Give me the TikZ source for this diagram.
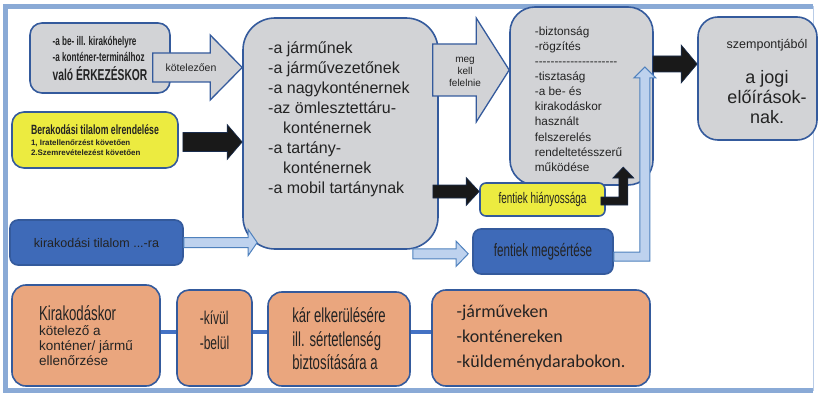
\documentclass[tikz,border=0pt]{standalone}
\usepackage{fontspec}
\setmainfont{Liberation Sans}
\newfontfamily\narrowfont[FakeStretch=0.65]{Liberation Sans}
\newfontfamily\calfont{Carlito}
\usetikzlibrary{calc}

\definecolor{boxblue}{RGB}{52,90,156}
\definecolor{boxgray}{RGB}{210,211,214}
\definecolor{boxyellow}{RGB}{236,235,64}
\definecolor{boxfill}{RGB}{62,106,184}
\definecolor{boxorange}{RGB}{234,166,126}
\definecolor{arrowlight}{RGB}{190,210,238}
\definecolor{arrowedge}{RGB}{79,129,189}
\definecolor{linkblue}{RGB}{68,114,196}
\definecolor{framecol}{RGB}{138,170,214}
\definecolor{textdark}{RGB}{35,35,35}

% horizontal block arrow: style, tail point, tip (x only), shaft half, head half, head length
\newcommand{\blockarrow}[6]{%
  \path[#1] let \p1=(#2), \p2=(#3) in
    (\x1,\y1+#4) -- (\x2-#6,\y1+#4) -- (\x2-#6,\y1+#5) -- (\x2,\y1)
    -- (\x2-#6,\y1-#5) -- (\x2-#6,\y1-#4) -- (\x1,\y1-#4) -- cycle;}

\begin{document}
\begin{tikzpicture}[x=1pt, y=-1pt,
  every node/.style={text=textdark, inner sep=0pt},
  box/.style={draw=boxblue, line width=1.6pt, rounded corners=#1},
  box/.default=12pt,
  graybox/.style={box=#1, fill=boxgray}, graybox/.default=12pt,
  yellowbox/.style={box=#1, fill=boxyellow}, yellowbox/.default=12pt,
  bluebox/.style={box=#1, fill=boxfill}, bluebox/.default=8pt,
  orangebox/.style={box=#1, fill=boxorange}, orangebox/.default=14pt,
  grayarrow/.style={fill=boxgray, draw=boxblue, line width=1.3pt},
  blackarrow/.style={fill=black!90, draw=boxblue!50!black, line width=0.6pt},
  lightarrow/.style={fill=arrowlight, draw=arrowedge, line width=1pt},
  link/.style={draw=linkblue, line width=4.5pt}]

        \useasboundingbox (0,0) rectangle (821,393);

        % Frame
        \draw[framecol, line width=4.5pt] (813,390.5) -- (5.5,390.5) -- (5.5,6.5) -- (813,6.5);
        \draw[framecol!60, line width=1pt] (813,6.5) -- (813,390.5);

        % Left column
        \node[graybox, minimum width=140pt, minimum height=70pt, align=left,
              font=\narrowfont\bfseries\fontsize{12.5}{16}\selectfont] (arr) at (100,58)
              {-a be- ill. kirakóhelyre\\-a konténer-terminálhoz\\[3pt]{\fontsize{15.8}{17}\selectfont való ÉRKEZÉSKOR}};
        \node[yellowbox, minimum width=166pt, minimum height=56pt, align=left,
              font=\bfseries\fontsize{7.9}{10}\selectfont] (ban) at (95,140)
              {{\narrowfont\fontsize{13.4}{13}\selectfont Berakodási tilalom elrendelése}\\[1pt]1, Iratellenőrzést követően\\2.Szemrevételezést követően};
        \node[bluebox, minimum width=173pt, minimum height=45pt,
              font=\fontsize{12.5}{14}\selectfont] (unban) at (96.5,242.5) {kirakodási tilalom ...-ra};

        % Middle box
        \node[graybox=32pt, minimum width=195pt, minimum height=231pt] (subj) at (340.5,133.5) {};
        \node[anchor=north west, align=left, font=\fontsize{16}{20}\selectfont] (subjtext) at (268,42)
              {-a járműnek\\-a járművezetőnek\\-a nagykonténernek\\-az ömlesztettáru-\\\hspace*{15pt}konténernek\\-a tartány-\\\hspace*{15pt}konténernek\\-a mobil tartánynak};

        % Right part
        \node[graybox=25pt, minimum width=143pt, minimum height=178pt] (crit) at (581.5,96) {};
        \node[align=left, font=\fontsize{11.8}{15.1}\selectfont] (crittext) at (578.5,99)
              {-biztonság\\-rögzítés\\-{}-{}-{}-{}-{}-{}-{}-{}-{}-{}-{}-{}-{}-{}-{}-{}-{}-{}-{}-{}-\\-tisztaság\\-a be- és\\kirakodáskor\\használt\\felszerelés\\rendeltetésszerű\\működése};
        \node[graybox=20pt, minimum width=119pt, minimum height=123pt] (law) at (757.5,78.5) {};
        \node[align=center, font=\fontsize{18}{20}\selectfont] (lawtext) at (767,81)
              {{\fontsize{12.5}{14}\selectfont szempontjából}\\[15pt]a jogi\\előírások-\\nak.};
        \node[yellowbox=6pt, minimum width=125pt, minimum height=33pt,
              font=\narrowfont\fontsize{15.3}{17}\selectfont] (def) at (542.5,199.5) {fentiek hiányossága};
        \node[bluebox, minimum width=140pt, minimum height=45pt,
              font=\narrowfont\fontsize{17.9}{19}\selectfont] (viol) at (543,251.5) {fentiek megsértése};

        % Bottom row
        \node[orangebox, minimum width=148pt, minimum height=101pt, align=left,
              font=\fontsize{13.5}{15}\selectfont] (chk) at (86,335.5)
              {{\narrowfont\fontsize{20.3}{19}\selectfont Kirakodáskor}\\kötelező a\\konténer/ jármű\\ellenőrzése};
        \node[orangebox=12pt, minimum width=75pt, minimum height=96pt, align=left, text depth=16pt,
              font=\narrowfont\fontsize{18.5}{25}\selectfont] (side) at (214.5,338) {-kívül\\-belül};
        \node[orangebox, minimum width=142pt, minimum height=94pt, align=left,
              font=\narrowfont\fontsize{20.2}{23.5}\selectfont] (dmg) at (339,339)
              {kár elkerülésére\\ill. sértetlenség\\biztosítására a};
        \node[orangebox, minimum width=218pt, minimum height=96pt, align=left,
              font=\calfont\fontsize{18}{25}\selectfont] (obj) at (541,338)
              {-járműveken\\-konténereken\\-küldeménydarabokon.};

        \coordinate (rowline) at (0,332);
        \foreach \a/\b in {chk/side, side/dmg, dmg/obj}
          \draw[link] (\a.east |- rowline) -- (\b.west |- rowline);

        % Block arrows
        \blockarrow{grayarrow}{$(arr.east)+(-18,9.5)$}{subj.west}{14.5}{32.5}{32}
        \node[font=\fontsize{10.5}{12}\selectfont] (kot) at (191,67.5) {kötelezően};
        \blockarrow{grayarrow}{$(subj.east)+(-6,-63.5)$}{crit.west}{26}{52}{33}
        \node[align=center, font=\fontsize{10}{12}\selectfont] (meg) at (465,72) {meg\\kell\\felelnie};
        \blockarrow{blackarrow}{$(ban.east)+(4,2)$}{subj.west}{9.5}{17.5}{15}
        \blockarrow{lightarrow}{unban.east}{$(subj.west)+(15,0)$}{5}{13}{9}
        \blockarrow{lightarrow}{$(subj.south east)+(-26,4)$}{$(viol.west)+(-4,0)$}{5}{12.5}{12}
        \blockarrow{blackarrow}{$(subj.east)+(-6,58)$}{def.west}{6.5}{14}{13}

        % Elbow arrows
        \path[lightarrow] ($(viol.east)+(0,0.5)$) -- ++(26,0) -- ++(0,-174) -- ++(-6,0) -- ++(11,-11)
          -- ++(11,11) -- ++(-6,0) -- ++(0,183) -- ++(-36,0) -- cycle;
        \path[blackarrow] ($(def.east)+(-5,-2.5)$) -- ++(18,0) -- ++(0,-19) -- ++(-6,0) -- ++(10.5,-11)
          -- ++(10.5,11) -- ++(-6,0) -- ++(0,27) -- ++(-27,0) -- cycle;
        \blockarrow{blackarrow}{$(crit.east)+(-1,-32)$}{law.west}{8}{19}{16}

      \end{tikzpicture}
\end{document}
